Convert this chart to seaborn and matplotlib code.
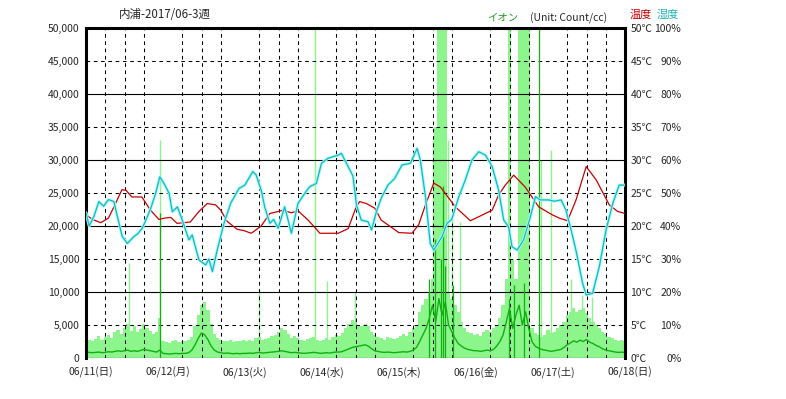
import numpy as np
import pandas as pd
import seaborn as sns
import matplotlib.pyplot as plt
from matplotlib.transforms import ScaledTranslation

# --- data (hours since 06/11 00:00) ---
day_labels = ["06/11(日)", "06/12(月)", "06/13(火)", "06/14(水)",
              "06/15(木)", "06/16(金)", "06/17(土)", "06/18(日)"]

# temperature (C)
temp_hours = [0, 2, 4.6, 7, 9, 11.2, 12.5, 14.3, 17.4, 20.1,
              22.7, 24.5, 26.4, 28.4, 32.5, 35.2, 37.8, 40.4, 42, 44,
              47.1, 49.2, 51.5, 54.6, 57.3, 59.9, 61.4, 64, 66.1, 69.2,
              71.3, 72.9, 78.6, 81.7, 84.3, 85.3, 87.4, 90, 92, 95.2,
              97.5, 101.6, 103.7, 105.8, 108.4, 110.5, 115.1, 119.8, 122.4, 126.6,
              128.6, 130.7, 133.3, 136.9, 141.1, 145.3, 147.5, 150.1, 152.7, 155.9,
              159, 163.1, 165.7, 168]
temp_values = [21.7, 21.0, 20.5, 21.2, 23.2, 25.5, 25.4, 24.4, 24.4, 22.4,
               21.0, 21.2, 21.3, 20.4, 20.6, 22.2, 23.4, 23.2, 22.4, 20.7,
               19.5, 19.3, 18.9, 20.0, 21.9, 22.2, 22.4, 22.0, 22.3, 20.9,
               19.8, 18.9, 18.9, 19.6, 23.0, 23.7, 23.4, 22.7, 20.9, 19.8,
               19.0, 18.9, 20.2, 23.2, 26.5, 25.9, 22.9, 20.8, 21.4, 22.4,
               24.7, 26.2, 27.7, 25.9, 22.9, 21.7, 21.2, 20.8, 23.9, 29.0,
               27.0, 23.2, 22.2, 21.9]

# humidity (%)
hum_hours = [0, 1, 2.5, 4, 5.5, 7, 8.7, 9.8, 11.3, 12.9,
             14.9, 16, 17.5, 18.5, 20.2, 21.7, 23, 24.3, 25.9, 26.9,
             28.5, 30, 32.1, 33.1, 35.2, 37.3, 38.3, 39.4, 40.9, 43,
             45.1, 47.7, 49.5, 52, 53, 54.6, 55.7, 57.3, 58.5, 59.9,
             61.9, 63, 64, 66.1, 68.2, 69.7, 71.8, 73.4, 75.4, 78.6,
             79.6, 81.7, 83.2, 84.3, 85.8, 87.9, 89, 90.5, 92, 94.1,
             96.2, 98.5, 101.1, 103.2, 104.2, 105.8, 107.3, 108.4, 111, 112.5,
             114, 116.2, 118.2, 120.3, 122.4, 124.5, 126.6, 128.6, 130.2, 131.7,
             132.8, 134.4, 136.4, 138.5, 140.1, 141.6, 144.2, 146, 148.1, 149.6,
             151.2, 152.7, 154.8, 155.9, 157.9, 160, 162.1, 164.2, 166.2, 168]
hum_values = [44, 40, 43, 47.4, 46, 48, 47.4, 42.8, 36.8, 34.7,
              36.8, 37.5, 39.3, 41.4, 45.4, 49.9, 54.9, 52.9, 49.9, 44.3,
              45.8, 41.8, 35.8, 37.3, 29.7, 28.2, 30, 26.2, 32.7, 40.8,
              46.9, 51.4, 52.4, 56.5, 55.5, 50.9, 45.8, 40.8, 42, 39.3,
              45.8, 41.8, 37.8, 46.9, 49.9, 51.9, 52.9, 59, 60.5, 61.5,
              62, 58, 55.2, 46.4, 41.8, 41.3, 38.8, 44.3, 48.4, 52.4,
              54.4, 58.5, 59, 63.5, 60, 48.9, 34.7, 32.7, 36.8, 40.8,
              42, 48.9, 53.9, 60, 62.5, 61.5, 58, 50.9, 41.8, 39.8,
              33.7, 32.7, 35.8, 42.8, 48.9, 47.9, 47.9, 47.5, 47.9, 44.8,
              38.8, 32.7, 22.6, 19.1, 19.6, 27.7, 38.8, 46.9, 52.4, 52.4]

# ions (count/cc), hourly max and mean, 0h..168h
ion_hours = np.arange(169)
ion_max = [3000, 2700, 2500, 2900, 3300, 2800, 3200, 3500, 3100, 3900, 4300, 3700,
           4600, 5200, 4100, 4900, 4000, 4400, 5200, 4600, 4100, 3600, 3900, 6000,
           2600, 2400, 2300, 2500, 2700, 2400, 2600, 2500, 2800, 3200, 4800, 6500,
           8000, 8500, 7200, 5200, 3600, 3000, 2800, 2600, 2500, 2700, 2400, 2600,
           2500, 2700, 2600, 2800, 2600, 3000, 3200, 2700, 2900, 3100, 3300, 3500,
           4000, 4500, 4200, 3600, 3100, 3300, 3000, 2800, 2600, 2900, 3100, 3200,
           2800, 2500, 2700, 3000, 2800, 3200, 3500, 3300, 3800, 4500, 5200, 5800,
           5500, 5000, 4800, 5200, 4800, 4000, 3500, 3200, 3000, 2800, 3200, 3000,
           2900, 3100, 3300, 3600, 3400, 3900, 4500, 5000, 7000, 8000, 9000, 10000,
           12000, 35000, 50000, 50000, 50000, 10000, 9000, 8000, 7000, 5500, 4500, 4000,
           3800, 3500, 3600, 3400, 3900, 4200, 4000, 4600, 5000, 6000, 8000, 12000,
           50000, 15000, 12000, 50000, 50000, 50000, 50000, 4500, 3800, 3500, 3200, 3500,
           4200, 3800, 4000, 4500, 5000, 5500, 6500, 7000, 7500, 7000, 7200, 7500,
           6800, 6000, 5500, 5000, 4500, 4000, 3600, 3200, 3000, 2800, 2600, 2800, 2500]
ion_mean = [900, 850, 800, 850, 900, 800, 850, 950, 900, 1000, 1100, 1000,
            1100, 1200, 1000, 1100, 1000, 1150, 1300, 1200, 1100, 1000, 900, 1200,
            700, 650, 600, 650, 700, 650, 700, 700, 800, 1200, 2000, 3000,
            3800, 3500, 2800, 1800, 1200, 900, 800, 700, 750, 700, 650, 700,
            650, 700, 700, 750, 700, 800, 850, 750, 800, 850, 900, 950,
            1000, 1100, 1000, 900, 800, 850, 800, 750, 700, 750, 800, 850,
            800, 700, 750, 800, 750, 850, 900, 900, 1000, 1200, 1400, 1600,
            1700, 1800, 1900, 2000, 1800, 1400, 1100, 1000, 900, 850, 900, 850,
            800, 850, 900, 950, 900, 1000, 1200, 1600, 2500, 3500, 4500, 6000,
            8000, 5500, 9000, 6500, 8500, 5000, 4000, 3000, 2200, 1800, 1500, 1300,
            1200, 1100, 1100, 1000, 1100, 1200, 1100, 1300, 1800, 2500, 3500, 5500,
            7500, 4500, 6500, 8000, 5000, 7000, 4500, 2500, 1800, 1500, 1300, 1200,
            1100, 1000, 1100, 1200, 1300, 1600, 2000, 2300, 2600, 2400, 2700, 2500,
            2800, 2400, 2200, 1900, 1700, 1400, 1200, 1100, 1000, 900, 850, 900, 800]

# single-reading spikes
max_spike_hours = [13.4, 23.2, 53.8, 71.4, 75.2, 83.7, 108.2, 112.8, 114.1, 116.6,
                   141.9, 144.9, 151.2, 154.5, 157.6]
max_spike_values = [14400, 33000, 10600, 50000, 11600, 10000, 33000, 33000, 21000, 20600,
                    30000, 31500, 12000, 9500, 9300]
mean_spike_hours = [23.2, 106.9, 108.8, 110.5, 111.2, 112.0, 114.3, 131.8, 133.5, 136.4, 141.2]
mean_spike_values = [22000, 12000, 18000, 15000, 26000, 14000, 11000, 9000, 11000, 11300, 50000]

LIGHT = "#8cf58c"
DARK = "#10b010"
RED = "#c80000"
CYAN = "#1cb4bc"
HALO = "#a0ffff"

sns.set_style("white")
plt.rcParams['font.family'] = ['Noto Sans CJK JP', 'DejaVu Sans']
plt.rcParams['font.size'] = 7.5

fig = plt.figure(figsize=(7.86, 3.99), dpi=100)
L, R, T, B = 86, 625, 28, 358
ax = fig.add_axes([L / 786, 1 - B / 399, (R - L) / 786, (B - T) / 399])

# ions
ax.fill_between(ion_hours, ion_max, step='mid', color=LIGHT, lw=0, zorder=1)
ax.vlines(max_spike_hours, 0, max_spike_values, color=LIGHT, lw=1, zorder=1)
sns.lineplot(x=ion_hours, y=ion_mean, ax=ax, color=DARK, lw=1.0, zorder=3)
ax.vlines(mean_spike_hours, 0, mean_spike_values, color=DARK, lw=0.9, zorder=3)

ax.set_xlim(0, 168)
ax.set_ylim(0, 50000)
ax.set_xticks(range(0, 169, 24))
ax.set_xticks(range(0, 169, 6), minor=True)
ax.set_xticklabels(day_labels)
ax.set_yticks(range(0, 50001, 5000))
ax.set_yticklabels([f"{v:,}" for v in range(0, 50001, 5000)])
ax.tick_params(axis='both', which='both', length=0)
ax.tick_params(axis='y', pad=4.5)
ax.tick_params(axis='x', pad=6)
ax.set_xlabel("")
ax.set_ylabel("")
for lab in ax.get_xticklabels():
    lab.set_transform(lab.get_transform() + ScaledTranslation(0.05, 0, fig.dpi_scale_trans))

# grid: solid every day / 10,000, dashed otherwise
for x in ax.get_xticks(minor=True):
    if x % 24 == 0:
        ax.axvline(x, color='k', lw=0.8, zorder=2)
    else:
        ax.axvline(x, color='k', lw=0.75, ls=(0, (3.5, 3.5)), zorder=2)
for y in ax.get_yticks():
    if y % 10000 == 0:
        ax.axhline(y, color='k', lw=0.8, zorder=2)
    else:
        ax.axhline(y, color='k', lw=0.75, ls=(0, (3.5, 3.5)), zorder=2)

for side in ['left', 'top', 'right']:
    ax.spines[side].set_linewidth(2.2)
    ax.spines[side].set_color('k')
    ax.spines[side].set_zorder(5)
ax.spines['bottom'].set_visible(False)

# temperature
ax_t = ax.twinx()
sns.lineplot(x=temp_hours, y=temp_values, ax=ax_t, color=RED, lw=0.9)
ax_t.set_ylim(0, 50)
ax_t.set_yticks(range(0, 51, 5))
ax_t.set_yticklabels([f"{v}℃" for v in range(0, 51, 5)])
ax_t.tick_params(length=0, pad=4)

# humidity
ax_h = ax.twinx()
sns.lineplot(x=hum_hours, y=hum_values, ax=ax_h, color=HALO, lw=2.2)
sns.lineplot(x=hum_hours, y=hum_values, ax=ax_h, color=CYAN, lw=0.9)
ax_h.set_ylim(0, 100)
ax_h.set_yticks(range(0, 101, 10))
ax_h.set_yticklabels([f"{v}%" for v in range(0, 101, 10)])
ax_h.tick_params(length=0, pad=40.5)
for lab in ax_h.get_yticklabels():
    lab.set_horizontalalignment('right')

for a in (ax_t, ax_h):
    a.set_ylabel("")
    a.set_xlabel("")
    for s in a.spines.values():
        s.set_visible(False)
ax.set_xlim(0, 168)

# header texts
fig.text(119 / 786, 1 - 15 / 399, "内浦-2017/06-3週", fontsize=8.3, va='center', ha='left')
fig.text(487 / 786, 1 - 18 / 399, "イオン", color="#22a022", va='center', ha='left')
fig.text(530 / 786, 1 - 18 / 399, "(Unit: Count/cc)", va='center', ha='left')
fig.text(630 / 786, 1 - 15 / 399, "温度", color=RED, fontsize=8, va='center', ha='left')
fig.text(657 / 786, 1 - 15 / 399, "湿度", color="#20b4b4", fontsize=8, va='center', ha='left')

fig.savefig("out.png", dpi=100)
